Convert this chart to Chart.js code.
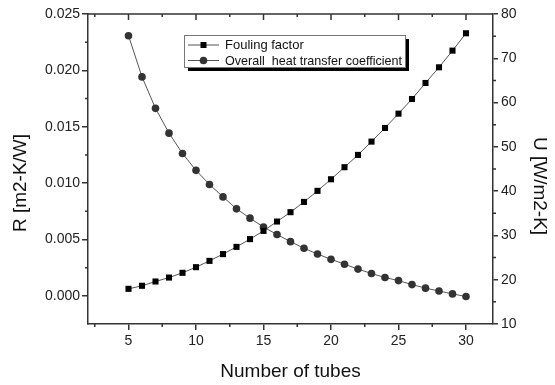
<!DOCTYPE html>
<html>
<head>
<meta charset="utf-8">
<script src="https://cdn.jsdelivr.net/npm/chart.js@4.4.0/dist/chart.umd.min.js"></script>
<style>
  html, body { margin: 0; padding: 0; background: #fff; }
</style>
</head>
<body>
<canvas id="tubesChart" width="555" height="385"></canvas>
<script>
// Values
const tubes = [5, 6, 7, 8, 9, 10, 11, 12, 13, 14, 15, 16, 17, 18, 19, 20, 21, 22, 23, 24, 25, 26, 27, 28, 29, 30];
const foulingFactor = [0.00062, 0.00089, 0.00127, 0.00162, 0.00204, 0.00254, 0.0031, 0.0037, 0.00434, 0.00503,
  0.00576, 0.00659, 0.00742, 0.00833, 0.00931, 0.01034, 0.01141, 0.0125, 0.01368, 0.01489,
  0.01616, 0.01746, 0.01888, 0.02027, 0.02175, 0.02329];
const heatTransferCoef = [75.1, 65.8, 58.7, 53.1, 48.5, 44.7, 41.5, 38.7, 36.0, 33.9,
  31.9, 30.2, 28.6, 27.1, 25.8, 24.6, 23.5, 22.4, 21.4, 20.5,
  19.8, 18.9, 18.1, 17.45, 16.8, 16.2];
const xTicks = [5, 10, 15, 20, 25, 30];
const rTicks = [0, 0.005, 0.010, 0.015, 0.020, 0.025];
const uTicks = [10, 20, 30, 40, 50, 60, 70, 80];
const seriesNames = ['Fouling factor', 'Overall  heat transfer coefficient'];

const FONT = "'Liberation Sans', Arial, sans-serif";
const AXIS = '#333';

const axisGrid = { display: true, drawOnChartArea: false, drawTicks: true, tickLength: 6, color: AXIS, lineWidth: 1.5 };
const axisBorder = { display: true, color: AXIS, width: 1.5 };

// frame, minor ticks, axis titles and the boxed legend
const decorPlugin = {
  id: 'decor',
  beforeDatasetsDraw(chart) {
    const { ctx, chartArea: a, scales } = chart;
    ctx.save();
    ctx.strokeStyle = AXIS;
    ctx.lineWidth = 1.5;
    ctx.beginPath();
    ctx.moveTo(a.left, a.top);
    ctx.lineTo(a.right, a.top);
    for (let v = 2.5; v <= 32; v += 2.5) {
      const px = scales.x.getPixelForValue(v);
      const major = v % 5 === 0;
      ctx.moveTo(px, a.top);
      ctx.lineTo(px, a.top + (major ? 6 : 3));
      if (!major) {
        ctx.moveTo(px, a.bottom);
        ctx.lineTo(px, a.bottom + 3);
      }
    }
    for (let v = 0.0025; v < 0.025; v += 0.005) {
      const py = scales.y.getPixelForValue(v);
      ctx.moveTo(a.left, py);
      ctx.lineTo(a.left - 3, py);
    }
    for (let v = 15; v < 80; v += 10) {
      const py = scales.y2.getPixelForValue(v);
      ctx.moveTo(a.right, py);
      ctx.lineTo(a.right + 3, py);
    }
    ctx.stroke();
    ctx.restore();
  },
  afterDraw(chart) {
    const { ctx, chartArea: a } = chart;
    const midY = (a.top + a.bottom) / 2;
    ctx.save();
    ctx.fillStyle = '#111';
    ctx.font = '19px ' + FONT;
    ctx.textAlign = 'center';
    ctx.textBaseline = 'middle';

    ctx.fillText('Number of tubes', (a.left + a.right) / 2, a.bottom + 48);

    ctx.save();
    ctx.translate(20.5, midY + 14);
    ctx.rotate(-Math.PI / 2);
    ctx.fillText('R [m2-K/W]', 0, 0);
    ctx.restore();

    ctx.save();
    ctx.translate(a.right + 46, midY + 17);
    ctx.rotate(Math.PI / 2);
    ctx.fillText('U [W/m2-K]', 0, 0);
    ctx.restore();

    // legend box with drop shadow
    const bx = a.left + 96, by = a.top + 21, bw = 221, bh = 32;
    ctx.fillStyle = '#000';
    ctx.fillRect(bx + 4, by + 4, bw, bh);
    ctx.fillStyle = '#fff';
    ctx.fillRect(bx, by, bw, bh);
    ctx.strokeStyle = '#777';
    ctx.lineWidth = 1;
    ctx.strokeRect(bx + 0.5, by + 0.5, bw, bh);

    ctx.font = '13px ' + FONT;
    ctx.textAlign = 'left';
    chart.data.datasets.forEach((ds, i) => {
      const ry = by + 10 + i * 15.5;
      ctx.strokeStyle = '#555';
      ctx.beginPath();
      ctx.moveTo(bx + 4, ry);
      ctx.lineTo(bx + 35, ry);
      ctx.stroke();
      ctx.fillStyle = ds.pointBackgroundColor;
      if (ds.pointStyle === 'rect') {
        ctx.fillRect(bx + 16.5, ry - 3, 6, 6);
      } else {
        ctx.beginPath();
        ctx.arc(bx + 19.5, ry, 3.8, 0, Math.PI * 2);
        ctx.fill();
      }
      ctx.fillStyle = '#111';
      ctx.fillText(ds.label, bx + 41, ry + 0.5, bw - 44);
    });
    ctx.restore();
  }
};

const config = {
  type: 'line',
  data: {
    datasets: [{
      label: seriesNames[0],
      data: tubes.map((t, i) => ({ x: t, y: foulingFactor[i] })),
      yAxisID: 'y',
      borderColor: '#555',
      borderWidth: 1,
      pointStyle: 'rect',
      pointRadius: 4.3,
      pointBackgroundColor: '#000',
      pointBorderWidth: 0
    }, {
      label: seriesNames[1],
      data: tubes.map((t, i) => ({ x: t, y: heatTransferCoef[i] })),
      yAxisID: 'y2',
      borderColor: '#555',
      borderWidth: 1,
      pointStyle: 'circle',
      pointRadius: 3.8,
      pointBackgroundColor: '#333',
      pointBorderWidth: 0
    }]
  },
  options: {
    responsive: false,
    animation: false,
    layout: { padding: { top: 14, left: 0, right: 0, bottom: 0 } },
    scales: {
      x: {
        type: 'linear',
        position: 'bottom',
        min: 2,
        max: 32,
        afterBuildTicks: s => { s.ticks = xTicks.map(v => ({ value: v })); },
        afterFit: s => { s.height = 61; },
        ticks: { font: { family: FONT, size: 14 }, color: '#222', padding: 3, maxRotation: 0 },
        grid: axisGrid,
        border: axisBorder
      },
      y: {
        type: 'linear',
        position: 'left',
        min: -0.0025,
        max: 0.025,
        afterBuildTicks: s => { s.ticks = rTicks.map(v => ({ value: v })); },
        afterFit: s => { s.width = 88; },
        ticks: {
          font: { family: FONT, size: 14 }, color: '#222', padding: 2,
          callback: v => v.toFixed(3)
        },
        grid: axisGrid,
        border: axisBorder
      },
      y2: {
        type: 'linear',
        position: 'right',
        min: 10,
        max: 80,
        afterBuildTicks: s => { s.ticks = uTicks.map(v => ({ value: v })); },
        afterFit: s => { s.width = 62; },
        ticks: { font: { family: FONT, size: 14 }, color: '#222', padding: 3 },
        grid: Object.assign({}, axisGrid, { tickLength: 5 }),
        border: axisBorder
      }
    },
    plugins: {
      legend: { display: false },
      tooltip: { enabled: false }
    }
  },
  plugins: [decorPlugin]
};

const ctx = document.getElementById('tubesChart').getContext('2d');
new Chart(ctx, config);
</script>
</body>
</html>
